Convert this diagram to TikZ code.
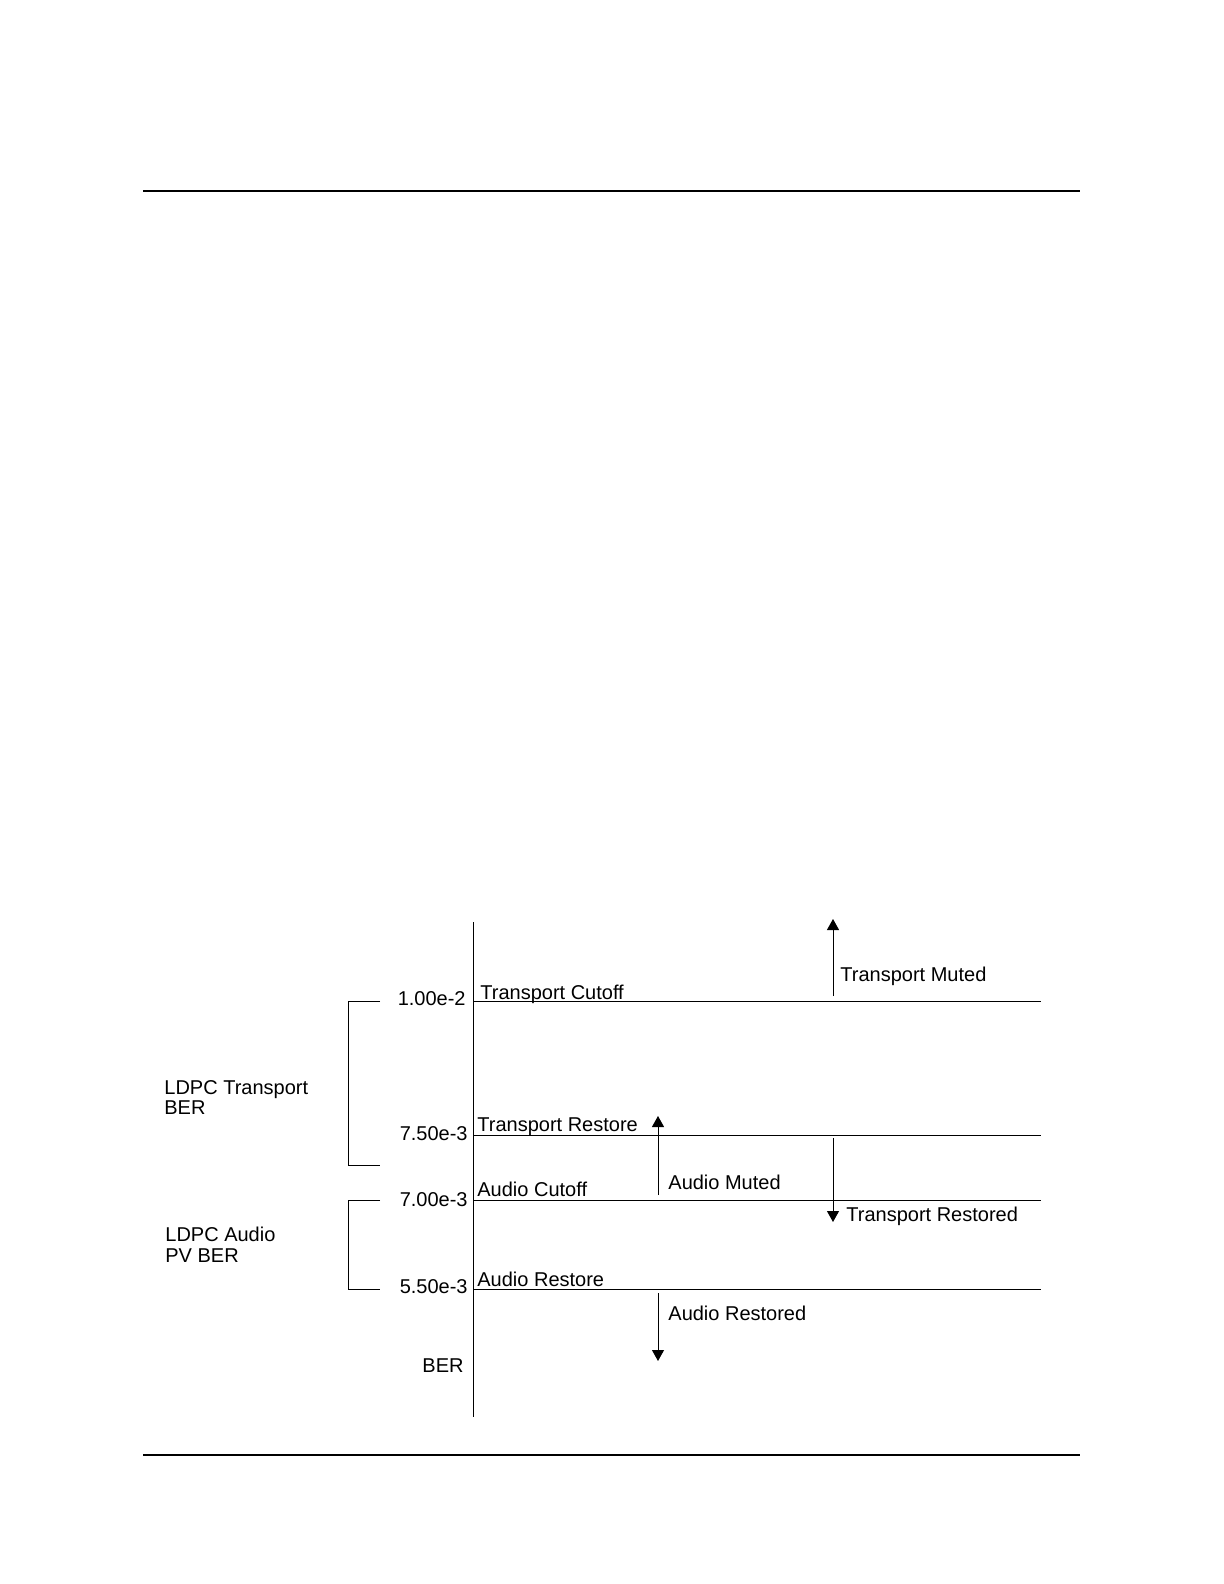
\documentclass[tikz,border=0pt]{standalone}
\usepackage{fontspec}
\setmainfont{Liberation Sans}
\usetikzlibrary{arrows.meta}
\tikzset{
  level/.style={line width=0.5pt},
  bracket/.style={line width=0.5pt},
  pagerule/.style={line width=1pt},
  arrow/.style={-{Triangle[width=6pt, length=5.5pt]}, line width=0.5pt},
  value/.style={anchor=base east, inner sep=0pt},
  tag/.style={anchor=base west, inner sep=0pt},
  group/.style={anchor=north west, inner sep=0pt, align=left, font=\fontsize{10}{10.3}\selectfont},
  every node/.style={font=\fontsize{10}{12}\selectfont}
}
\begin{document}
\begin{tikzpicture}[x=0.5pt, y=-0.5pt]
    \useasboundingbox (0,0) rectangle (1224,1584);
    \coordinate (ruleTL) at (143,191);
    \coordinate (ruleTR) at (1080,191);
    \coordinate (ruleBL) at (143,1455);
    \coordinate (ruleBR) at (1080,1455);
    \draw[pagerule] (ruleTL) -- (ruleTR);
    \draw[pagerule] (ruleBL) -- (ruleBR);
    \coordinate (axTop) at (473,922);
    \coordinate (axBot) at (473,1417);
    \draw[level] (axTop) -- (axBot);
    \foreach \name/\y in {tc/1001, tr/1135, ac/1200, ar/1289}{
        \coordinate (\name-l) at (473,\y);
        \coordinate (\name-r) at (1041,\y);
        \draw[level] (\name-l) -- (\name-r);
    }
    \node[value] (vTc) at (466,1005) {1.00e-2};
    \node[value] (vTr) at (468,1140) {7.50e-3};
    \node[value] (vAc) at (468,1206) {7.00e-3};
    \node[value] (vAr) at (468,1293) {5.50e-3};
    \node[value] (axis) at (464,1372) {BER};
    \node[tag] (tCut) at (480,999) {Transport Cutoff};
    \node[tag] (tRes) at (477,1131) {Transport Restore};
    \node[tag] (aCut) at (477,1196) {Audio Cutoff};
    \node[tag] (aRes) at (477,1286) {Audio Restore};
    \node[group] (ldpcT) at (164,1080) {LDPC Transport\\BER};
    \node[group] (ldpcA) at (165,1227) {LDPC Audio\\PV BER};
    \coordinate (tbTop) at (380,1001);
    \coordinate (tbBot) at (380,1165);
    \draw[bracket] (tbTop) -- ++(-32,0) |- (tbBot);
    \coordinate (abTop) at (380,1200);
    \coordinate (abBot) at (380,1289);
    \draw[bracket] (abTop) -- ++(-32,0) |- (abBot);
    \coordinate (tmFrom) at (833,996);
    \coordinate (tmTo) at (833,919);
    \draw[arrow] (tmFrom) -- (tmTo);
    \node[tag] (tMuted) at (840,981) {Transport Muted};
    \coordinate (amFrom) at (658,1195);
    \coordinate (amTo) at (658,1116);
    \draw[arrow] (amFrom) -- (amTo);
    \node[tag] (aMuted) at (668,1189) {Audio Muted};
    \coordinate (trFrom) at (833,1138);
    \coordinate (trTo) at (833,1222);
    \draw[arrow] (trFrom) -- (trTo);
    \node[tag] (tRestored) at (846,1221) {Transport Restored};
    \coordinate (arFrom) at (658,1293);
    \coordinate (arTo) at (658,1361);
    \draw[arrow] (arFrom) -- (arTo);
    \node[tag] (aRestored) at (668,1320) {Audio Restored};
\end{tikzpicture}
\end{document}
